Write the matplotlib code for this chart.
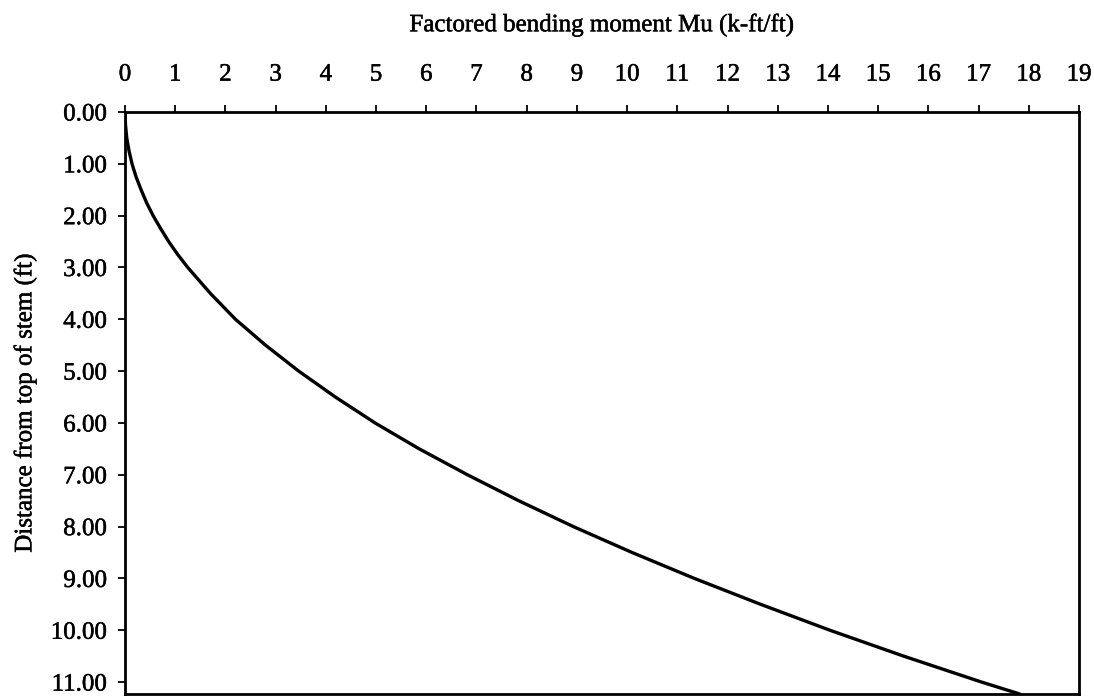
import matplotlib
matplotlib.use("Agg")
import matplotlib.pyplot as plt
import matplotlib.patheffects as pe

# Factored bending moment in the stem versus depth below the top of the stem
depth_ft = [0.0, 0.25, 0.5, 0.75, 1.0, 1.25, 1.5, 1.75, 2.0, 2.25, 2.5, 2.75, 3.0,
            3.5, 4.0, 4.5, 5.0, 5.5, 6.0, 6.5, 7.0, 7.5, 8.0, 8.5, 9.0, 9.5,
            10.0, 10.5, 11.0, 11.23]
moment_kft = [0.0, 0.01, 0.035, 0.08, 0.14, 0.22, 0.32, 0.43, 0.56, 0.71, 0.87, 1.05, 1.25,
              1.70, 2.20, 2.80, 3.46, 4.19, 4.98, 5.86, 6.82, 7.84, 8.93, 10.10, 11.34, 12.66,
              14.04, 15.51, 17.06, 17.82]

x_ticks = list(range(0, 20))
y_ticks = [0, 1, 2, 3, 4, 5, 6, 7, 8, 9, 10, 11]

plt.rcParams['font.family'] = ['Liberation Serif', 'DejaVu Serif']
ink = [pe.withStroke(linewidth=0.35, foreground='black')]

W, H = 1094, 696
fig = plt.figure(figsize=(W / 100, H / 100), dpi=100)
left_px, right_px, top_px, bottom_px = 125, 1079, 112, 694
ax = fig.add_axes([left_px / W, 1 - bottom_px / H,
                   (right_px - left_px) / W, (bottom_px - top_px) / H])

ax.plot(moment_kft, depth_ft, color='black', lw=2.4,
        solid_capstyle='round', solid_joinstyle='round')

ax.set_xlim(0, 19)
ax.set_ylim(11.23, 0)
ax.xaxis.tick_top()
ax.set_xticks(x_ticks)
ax.set_xticklabels([str(v) for v in x_ticks])
ax.set_yticks(y_ticks)
ax.set_yticklabels([f"{v:.2f}" for v in y_ticks])

ax.tick_params(axis='x', direction='out', length=5, width=1.3, labelsize=18,
               pad=14, colors='black')
ax.tick_params(axis='y', direction='out', length=5, width=1.3, labelsize=18,
               pad=8, colors='black')
for lab in ax.get_xticklabels() + ax.get_yticklabels():
    lab.set_path_effects(ink)

for sp in ax.spines.values():
    sp.set_linewidth(2.0)
    sp.set_color('black')

axis_mid_x = (left_px + right_px) / 2 / W
axis_mid_y = 1 - (top_px + bottom_px) / 2 / H
fig.text(axis_mid_x, 1 - 25 / H, 'Factored bending moment Mu (k-ft/ft)',
         fontsize=18, ha='center', va='center', path_effects=ink)
fig.text(25 / W, axis_mid_y, 'Distance from top of stem (ft)',
         fontsize=18, ha='center', va='center', rotation=90, path_effects=ink)

fig.savefig('out.png', dpi=100, facecolor='white')
